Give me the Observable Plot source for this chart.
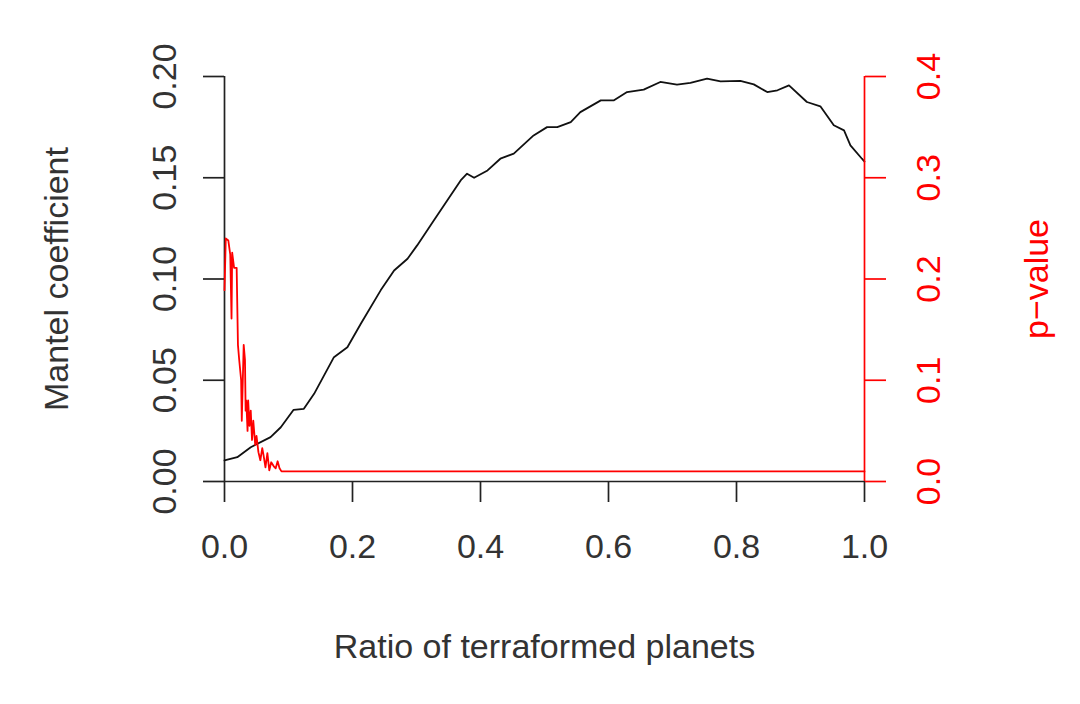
<!DOCTYPE html>
<html><head><meta charset="utf-8">
<script src="https://cdn.jsdelivr.net/npm/d3@7"></script>
<script src="https://cdn.jsdelivr.net/npm/@observablehq/plot@0.6"></script>
<style>
html,body{margin:0;padding:0;background:#fff;}
#chart{position:relative;width:1080px;height:704px;background:#fff;}
#chart svg{position:absolute;left:0;top:0;}
</style></head><body><div id="chart"></div>
<script>
// Mantel coefficient vs ratio (black series)
const ratio = [0, 0.02, 0.041, 0.072, 0.088, 0.108, 0.124, 0.140, 0.171, 0.192, 0.213, 0.244, 0.265, 0.286, 0.301, 0.327, 0.348, 0.369, 0.379, 0.390, 0.411, 0.431, 0.452, 0.483, 0.504, 0.520, 0.541, 0.556, 0.588, 0.608, 0.629, 0.655, 0.681, 0.707, 0.728, 0.754, 0.775, 0.806, 0.827, 0.848, 0.864, 0.882, 0.910, 0.931, 0.952, 0.968, 0.978, 0.996, 1.0];
const mantel = [0.0104, 0.0120, 0.0169, 0.0219, 0.0268, 0.0354, 0.0359, 0.0433, 0.0614, 0.0663, 0.0779, 0.0944, 0.1042, 0.1100, 0.1166, 0.1289, 0.1388, 0.1487, 0.1520, 0.1500, 0.1536, 0.1594, 0.1619, 0.1709, 0.1750, 0.1750, 0.1775, 0.1824, 0.1882, 0.1882, 0.1923, 0.1935, 0.1973, 0.1960, 0.1968, 0.1989, 0.1976, 0.1978, 0.1961, 0.1923, 0.1932, 0.1956, 0.1874, 0.1853, 0.1759, 0.1734, 0.1660, 0.1594, 0.1580];
// p-value vs ratio (red series)
const pRatio = [0, 0.002, 0.006, 0.009, 0.011, 0.012, 0.015, 0.019, 0.021, 0.023, 0.026, 0.027, 0.030, 0.032, 0.033, 0.034, 0.036, 0.037, 0.039, 0.041, 0.043, 0.045, 0.048, 0.050, 0.053, 0.056, 0.059, 0.061, 0.064, 0.067, 0.070, 0.073, 0.077, 0.080, 0.083, 0.086, 0.089, 1.0];
const pValue = [0.189, 0.240, 0.238, 0.224, 0.161, 0.226, 0.211, 0.211, 0.135, 0.120, 0.100, 0.060, 0.135, 0.120, 0.070, 0.080, 0.050, 0.080, 0.055, 0.070, 0.041, 0.060, 0.036, 0.045, 0.029, 0.021, 0.033, 0.026, 0.014, 0.028, 0.011, 0.019, 0.015, 0.013, 0.020, 0.013, 0.010, 0.010];

const xTicks = [0, 0.2, 0.4, 0.6, 0.8, 1.0];
const mantelTicks = [0, 0.05, 0.10, 0.15, 0.20];
const pTicks = [0, 0.1, 0.2, 0.3, 0.4];
const xTitle = "Ratio of terraformed planets";
const leftTitle = "Mantel coefficient";
const rightTitle = "p\u2212value";

const W = 1080, H = 704;
const M = {top: 76, right: 216, bottom: 223, left: 224};
const font = "'Liberation Sans', Arial, Helvetica, sans-serif";
const ink = "#333";
const red = "#ff0000";

const blackData = ratio.map((r, i) => ({r, v: mantel[i]}));
const redData = pRatio.map((r, i) => ({r, p: pValue[i]}));

const common = {
  width: W, height: H,
  marginTop: M.top, marginRight: M.right, marginBottom: M.bottom, marginLeft: M.left,
  style: {fontFamily: font, fontSize: "34px", background: "transparent", overflow: "visible"}
};

const base = Plot.plot({
  ...common,
  x: {domain: [0, 1]},
  y: {domain: [0, 0.2]},
  marks: [
    Plot.ruleY([0], {x1: 0, x2: 1, stroke: "#222", strokeWidth: 1.7}),
    Plot.ruleX([0], {y1: 0, y2: 0.2, stroke: "#222", strokeWidth: 1.7}),
    Plot.axisX({ticks: xTicks, tickFormat: d3.format(".1f"), tickSize: 21, tickPadding: 31, label: null, stroke: "#222", fill: ink, strokeWidth: 1.7, fontSize: 34}),
    Plot.axisY({ticks: mantelTicks, tickFormat: d3.format(".2f"), tickSize: 21, tickPadding: 28, tickRotate: -90, textAnchor: "middle", lineAnchor: "bottom", label: null, stroke: "#222", fill: ink, strokeWidth: 1.7, fontSize: 34}),
    Plot.line(blackData, {x: "r", y: "v", stroke: "#111", strokeWidth: 1.8}),
    Plot.text([xTitle], {frameAnchor: "bottom", text: d => d, dy: 176, textAnchor: "middle", lineAnchor: "bottom", fill: ink, fontSize: 34}),
    Plot.text([leftTitle], {frameAnchor: "left", text: d => d, rotate: -90, dx: -157, textAnchor: "middle", lineAnchor: "bottom", fill: ink, fontSize: 34})
  ]
});

const over = Plot.plot({
  ...common,
  x: {domain: [0, 1], axis: null},
  y: {domain: [0, 0.4]},
  marks: [
    Plot.ruleX([1], {y1: 0, y2: 0.4, stroke: red, strokeWidth: 1.7}),
    Plot.axisY({anchor: "right", ticks: pTicks, tickFormat: d3.format(".1f"), tickSize: 21, tickPadding: 30, tickRotate: -90, textAnchor: "middle", lineAnchor: "top", label: null, color: red, strokeWidth: 1.7, fontSize: 34}),
    Plot.line(redData, {x: "r", y: "p", stroke: red, strokeWidth: 1.8}),
    Plot.text([rightTitle], {frameAnchor: "right", text: d => d, rotate: -90, dx: 183, textAnchor: "middle", lineAnchor: "bottom", fill: red, fontSize: 34})
  ]
});

const el = document.getElementById("chart");
el.appendChild(base);
el.appendChild(over);
</script>
</body></html>
